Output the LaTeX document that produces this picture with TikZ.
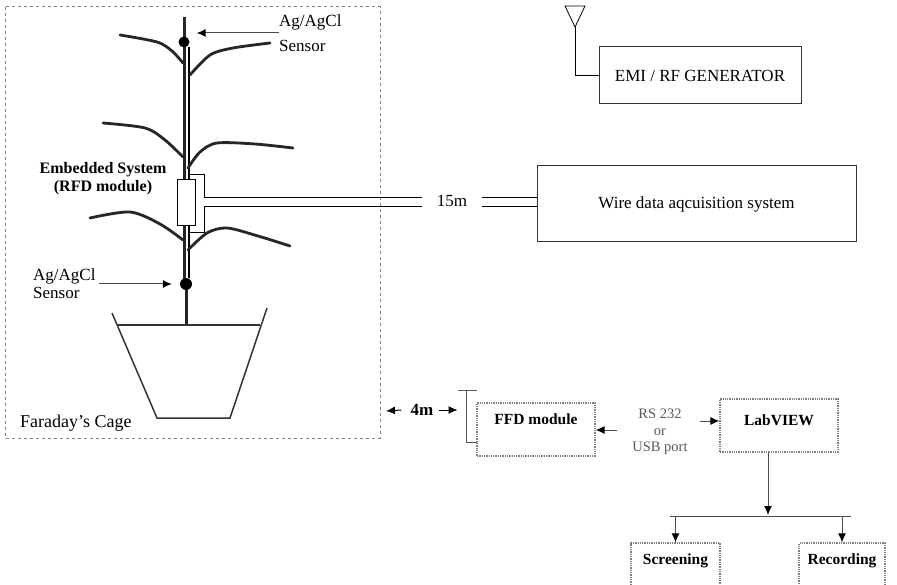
\documentclass[tikz,border=0pt]{standalone}
\usepackage{fontspec}
\setmainfont{Liberation Serif}
\usetikzlibrary{arrows.meta}
\begin{document}
\begin{tikzpicture}[x=1pt,y=-1pt,
  box/.style={draw=black!80,line width=1pt,align=center,inner sep=0pt,font=\fontsize{17}{20}\selectfont},
  dbox/.style={draw=gray,densely dotted,line width=1.3pt,align=center,inner sep=0pt,text height=11pt,font=\bfseries\fontsize{15.5}{18}\selectfont},
  arr/.style={-{Latex[length=9pt,width=8pt,black]},draw=black!70,line width=1pt},
  leaf/.style={line width=2.8pt,black!85,line cap=round},
  lbl/.style={inner sep=0pt,align=left,font=\fontsize{17}{25}\selectfont}]
 \useasboundingbox (0,0) rectangle (897,585);
 \clip (0,0) rectangle (897,585);
 % cage
 \draw[gray,line width=1pt,dash pattern=on 3pt off 3pt] (5,7) rectangle (380,438);
 \node[lbl,anchor=west,font=\fontsize{18}{20}\selectfont] (cage) at (20,423) {Faraday's Cage};
 % stem and leaves
 \draw[line width=3pt,black!85] (184,17) -- (184,284);
 \draw[line width=3pt,black!85] (186,284) -- (186,325);
 \draw[line width=1.2pt] (189,47) -- (189,278);
 \draw[leaf] plot[smooth] coordinates {(120,35) (157,42) (172,51) (183,63)};
 \draw[leaf] plot[smooth] coordinates {(190,75) (210,55) (233,48) (270,43)};
 \draw[leaf] plot[smooth] coordinates {(103,123) (145,128) (165,140) (183,157)};
 \draw[leaf] plot[smooth] coordinates {(188,168) (200,152) (217,143) (255,144) (293,148)};
 \draw[leaf] plot[smooth] coordinates {(90,218) (130,212) (160,224) (183,240)};
 \draw[leaf] plot[smooth] coordinates {(188,250) (207,233) (227,228) (258,236) (290,246)};
 \node[circle,fill=black,inner sep=0pt,minimum size=11pt] (dot1) at (184,42) {};
 \node[circle,fill=black,inner sep=0pt,minimum size=12pt] (dot2) at (186,284) {};
 % pot
 \draw[line width=1.5pt,black!80] (112,313) -- (157,418) -- (230,418) -- (267,308);
 \draw[line width=1.5pt,black!80] (118,325) -- (260,325);
 % embedded module and cable
 \draw[line width=0.8pt] (189,174) -| (204,197) -- (422,197);
 \draw[line width=0.8pt] (189,232) -| (204,206) -- (422,206);
 \node[draw,fill=white,line width=0.8pt,minimum width=18pt,minimum height=46pt,inner sep=0pt] (rfd) at (186,202) {};
 \node[lbl,align=center,font=\bfseries\fontsize{16}{18}\selectfont] (emb) at (103,179) {Embedded System\\(RFD module)};
 \node[lbl,anchor=west] (sens1) at (279,33) {Ag/AgCl\\Sensor};
 \draw[arr,shorten >=7pt] (sens1.west) -- (sens1.west -| dot1.east);
 \node[lbl,anchor=west,font=\fontsize{17}{18}\selectfont] (sens2) at (33,284) {Ag/AgCl\\Sensor};
 \draw[arr,shorten >=8pt] ([xshift=3pt]sens2.east) -- (dot2.west);
 % wired link
 \node[lbl] (m15) at (452,201) {15m};
 \node[box,minimum width=319pt,minimum height=76pt] (wire) at (696.5,204) {Wire data aqcuisition system};
 \coordinate (w1) at (482,197);
 \coordinate (w2) at (482,206);
 \draw[line width=0.8pt] (w1) -- (wire.west |- w1);
 \draw[line width=0.8pt] (w2) -- (wire.west |- w2);
 % generator with antenna
 \node[box,minimum width=202pt,minimum height=57pt] (emi) at (700,75.5) {EMI / RF GENERATOR};
 \draw[line width=0.8pt] (565,6) -- (585,6) -- (575,27) -- cycle;
 \draw[line width=0.8pt] (575,27) |- (emi.west);
 % coordinator side
 \node[dbox,minimum width=118pt,minimum height=53pt,text depth=22pt] (ffd) at (536,429.5) {FFD module};
 \node[dbox,minimum width=118pt,minimum height=53pt,text depth=12pt] (lab) at (779,425.5) {LabVIEW};
 \node[dbox,minimum width=89pt,minimum height=46pt,text depth=15pt] (scr) at (675.5,566) {Screening};
 \node[dbox,minimum width=86pt,minimum height=46pt,text depth=15pt] (rec) at (842,566) {Recording};
 \node[lbl,font=\bfseries\fontsize{17}{20}\selectfont] (m4) at (422,410) {4m};
 \coordinate (cageE) at (386,411);
 \draw[arr,draw=black] ([xshift=-9pt]m4.west) -- (cageE);
 \draw[arr,draw=black] ([xshift=5pt]m4.east) -- ++(19,0);
 \draw[line width=0.8pt,gray!70!black] (458,390) -- (477,390);
 \draw[line width=0.8pt,gray!70!black] (466,390) |- (477,442);
 \node[lbl,align=center,text=gray!70!black,font=\fontsize{14.5}{16.5}\selectfont] (rs) at (660,432) {RS 232\\or\\USB port};
 \coordinate (rs1) at (617,430);
 \coordinate (rs2) at (700,421);
 \draw[arr] (rs1) -- (ffd.east |- rs1);
 \draw[arr] (rs2) -- (lab.west |- rs2);
 \coordinate (bus) at (768,516);
 \draw[arr,shorten >=1pt] (lab.south -| bus) -- (bus);
 \draw[line width=1pt,black!70] (670,516) -- (851,516);
 \draw[arr] (scr.north |- bus) -- (scr.north);
 \draw[arr] (rec.north |- bus) -- (rec.north);
\end{tikzpicture}
\end{document}
